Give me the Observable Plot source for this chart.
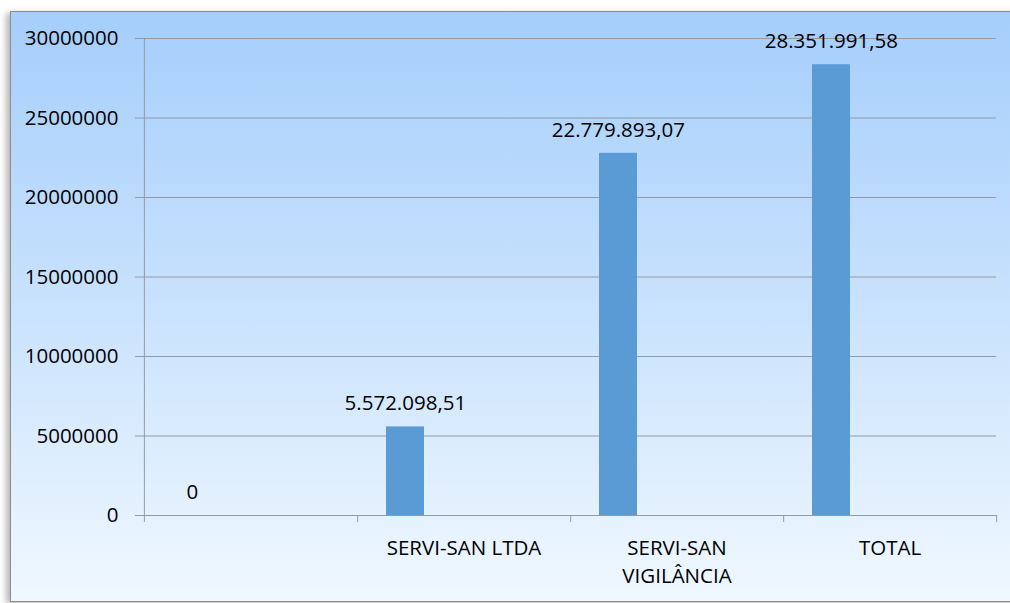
<!DOCTYPE html>
<html>
<head>
<meta charset="utf-8">
<script src="https://cdn.jsdelivr.net/npm/d3@7"></script>
<script src="https://cdn.jsdelivr.net/npm/@observablehq/plot@0.6"></script>
<style>
  html, body { margin: 0; padding: 0; width: 1010px; height: 603px; overflow: hidden; background: #fff; }
  #frame {
    position: absolute; left: 10px; top: 11px; width: 1010px; height: 589px;
    border-top: 1px solid #8c8c8c; border-left: 1px solid #8c8c8c; border-bottom: 1px solid #8c8c8c;
    background: linear-gradient(to bottom, #a5cefb 0%, #c9e2fd 50%, #f0f8ff 100%);
    box-shadow: -4px 2px 6px rgba(0,0,0,0.28);
    overflow: hidden;
  }
  #frame svg { position: absolute; left: 0; top: 0; }
</style>
</head>
<body>
<div id="frame"></div>
<script>
const categories = ["", "SERVI-SAN LTDA", "SERVI-SAN\nVIGILÂNCIA", "TOTAL"];
const values = [0, 5572098.51, 22779893.07, 28351991.58];
const valueLabels = ["0", "5.572.098,51", "22.779.893,07", "28.351.991,58"];
const yTicks = [0, 5000000, 10000000, 15000000, 20000000, 25000000, 30000000];

const data = categories.map((c, i) => ({category: c, value: values[i], label: valueLabels[i]}));

const W = 999, H = 589;
const mL = 132, mR = 14, mT = 26, mB = 86;
const half = (W - mL - mR) / categories.length / 2;

const chart = Plot.plot({
  width: W,
  height: H,
  marginLeft: mL,
  marginRight: mR,
  marginTop: mT,
  marginBottom: mB,
  style: {background: "transparent", fontFamily: "'Open Sans', sans-serif", fontSize: "20.5px", color: "#000"},
  x: {domain: categories, padding: 0, align: 0.5},
  y: {domain: [0, 30000000], ticks: yTicks},
  marks: [
    Plot.gridY(yTicks, {stroke: "#939aa3", strokeOpacity: 1, strokeWidth: 1}),
    Plot.axisY(yTicks, {tickSize: 8, tickPadding: 17, stroke: "#939aa3", tickFormat: d3.format("d"), fill: "#000", fontSize: 20.5, label: null}),
    // value-axis line (left edge of first band)
    Plot.ruleX([categories[0]], {x: d => d, dx: -half, y1: 30000000, y2: 0, insetBottom: -7, stroke: "#939aa3"}),
    // category boundary tick marks
    Plot.ruleX(categories, {x: d => d, dx: half, y1: 0, y2: 0, insetBottom: -7, stroke: "#939aa3"}),
    Plot.axisX({tickSize: 0, tickPadding: 19, fill: "#000", fontSize: 20.5, lineHeight: 1.38, label: null}),
    Plot.barY(data, {x: "category", y: "value", fill: "#5b9bd5", insetLeft: 29, insetRight: 146}),
    Plot.text(data, {x: "category", y: "value", text: "label", dx: 48 - half, dy: -23, fill: "#000", fontSize: 20.5})
  ]
});

document.getElementById("frame").appendChild(chart);
</script>
</body>
</html>
